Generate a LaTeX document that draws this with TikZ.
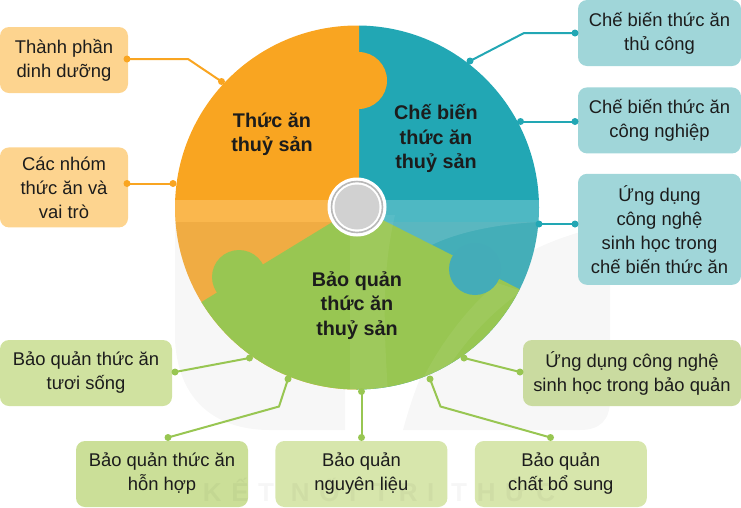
\documentclass[tikz,border=0pt]{standalone}
\usepackage{fontspec}
\setmainfont{Liberation Sans}
\newfontfamily\nenfont[LetterSpace=37]{Liberation Sans Bold}
\usetikzlibrary{positioning}
\definecolor{cam}{HTML}{F9A521}
\definecolor{xanh}{HTML}{22A7B4}
\definecolor{xanhmo}{HTML}{44ACB8}
\definecolor{la}{HTML}{98C652}
\definecolor{camnhat}{HTML}{FDD48F}
\definecolor{xanhnhat}{HTML}{A0D6D9}
\definecolor{lanhat}{HTML}{CBDF98}
\definecolor{lanhat2}{HTML}{D7E6AC}
\definecolor{laxam}{HTML}{CADBA0}
\definecolor{chu}{HTML}{1C1C1C}
\tikzstyle{hop} = [rectangle,
                    rounded corners=9pt,
                    inner sep=0pt,
                    text centered,
                    text=chu,
                    font=\fontsize{18.4}{24}\selectfont]
\tikzstyle{hopcam} = [hop, fill=camnhat, minimum width=128pt]
\tikzstyle{hopxanh} = [hop, fill=xanhnhat, minimum width=163pt]
\tikzstyle{hopla} = [hop, fill=lanhat, minimum width=172pt, minimum height=66pt]
\tikzstyle{manh} = [text=chu, text centered, font=\fontsize{19.8}{24.3}\selectfont\bfseries]
\tikzstyle{noicam} = [draw=cam, line width=2pt]
\tikzstyle{noixanh} = [draw=xanh, line width=2pt]
\tikzstyle{noila} = [draw=la, line width=2pt]
\tikzstyle{cham} = [circle, inner sep=0pt, minimum size=7pt]

\begin{document}
\begin{tikzpicture}[x=1pt, y=-1pt]
\useasboundingbox (0,0) rectangle (741,507);
% nen mo
\fill[black!3] (175,200) -- (175,340) .. controls (178,400) and (215,430) .. (270,430) -- (345,430) -- (345,200) -- cycle;
\fill[black!3] (403,430) .. controls (430,330) and (480,250) .. (610,225) -- (610,400) .. controls (610,420) and (600,430) .. (580,430) -- cycle;
% banh tron
\begin{scope}
\clip (357,207.5) circle [radius=182];
\fill[xanh] (359,207) -- (359,0) -- (600,0) -- (600,400) -- (357,400) -- cycle;
\fill[cam] (359,207) -- (359,0) -- (100,0) -- (100,400) -- (357,400) -- cycle;
\fill[black!20, opacity=.2] (170,222) rectangle (545,400);
\fill[white, opacity=.12] (545,222) -- (538,222) .. controls (480,225) and (420,240) .. (400,270) -- (380,222) -- cycle;
\fill[white, opacity=.2] (170,200) rectangle (545,222);
\fill[la] (357,207) -- (100,364) -- (100,420) -- (620,420) -- (620,340) -- cycle;
\fill[white, opacity=.06] (350,215) -- (395,215) .. controls (380,280) and (385,340) .. (388,395) -- (350,395) -- cycle;
\fill[white, opacity=.06] (522,291) .. controls (480,320) and (450,360) .. (432,395) -- (415,395) .. controls (435,350) and (465,310) .. (497,283) -- cycle;
\end{scope}
\fill[cam] (358.5,80.5) circle [radius=28.5];
\fill[xanhmo] (475,269) circle [radius=26];
\fill[la] (239,277) circle [radius=27];
% tam
\fill[white] (357,207) circle [radius=29.5];
\draw[black!28, line width=1.6pt] (357,207) circle [radius=25.5];
\fill[black!18] (357,207) circle [radius=22.5];

\node (m1) [manh, align=center] at (272,134.5) {Thức ăn\\thuỷ sản};
\node (m2) [manh, align=center] at (436,138.5) {Chế biến\\thức ăn\\thuỷ sản};
\node (m3) [manh, align=center] at (357,305.5) {Bảo quản\\thức ăn\\thuỷ sản};

\node (c1) [hopcam, minimum height=66pt, align=center] at (64,60) {Thành phần\\dinh dưỡng};
\node (c2) [hopcam, minimum height=80pt, align=center, below=54pt of c1] {Các nhóm\\thức ăn và\\vai trò};

\node (x1) [hopxanh, minimum height=66pt, align=center] at (659.5,33) {Chế biến thức ăn\\thủ công};
\node (x2) [hopxanh, minimum height=66pt, align=center, below=21pt of x1] {Chế biến thức ăn\\công nghiệp};
\node (x3) [hopxanh, minimum height=111pt, align=center, below=20pt of x2] {Ứng dụng\\công nghệ\\sinh học trong\\chế biến thức ăn};

\node (l1) [hopla, fill=lanhat!60!lanhat2, align=center] at (86,373) {Bảo quản thức ăn\\tươi sống};
\node (l2) [hopla, align=center] at (162,474) {Bảo quản thức ăn\\hỗn hợp};
\node (l3) [hopla, fill=lanhat2, align=center, right=27pt of l2] {Bảo quản\\nguyên liệu};
\node (l4) [hopla, fill=lanhat2, align=center, right=27pt of l3] {Bảo quản\\chất bổ sung};
\node (l5) [hopla, fill=laxam, minimum width=218pt, align=center] at (632,373) {Ứng dụng công nghệ\\sinh học trong bảo quản};

\node (nen) [text=black, opacity=.035, inner sep=0pt, font=\fontsize{26}{26}\nenfont] at (379,490) {KẾT NỐI TRI THỨC};

% cham cam
\node (dc1) [cham, fill=cam] at (127,59) {};
\node (ec1) [cham, fill=cam] at (221.5,81.5) {};
\node (dc2) [cham, fill=cam] at (127,183.5) {};
\node (ec2) [cham, fill=cam] at (173,183.5) {};
% cham xanh
\node (dx1) [cham, fill=xanh] at (575,33) {};
\node (ex1) [cham, fill=xanh] at (470,61) {};
\node (dx2) [cham, fill=xanh] at (575,121.5) {};
\node (ex2) [cham, fill=xanh] at (520.5,121.5) {};
\node (dx3) [cham, fill=xanh] at (575,224) {};
\node (ex3) [cham, fill=xanh] at (539,224) {};
% cham la
\node (dl1) [cham, fill=la] at (175,372) {};
\node (el1) [cham, fill=la] at (249.5,358) {};
\node (dl2) [cham, fill=la] at (168,437.5) {};
\node (el2) [cham, fill=la] at (288,379) {};
\node (dl3) [cham, fill=la] at (361.5,437.5) {};
\node (el3) [cham, fill=la] at (361.5,391.5) {};
\node (dl4) [cham, fill=la] at (550.5,437.5) {};
\node (el4) [cham, fill=la] at (430,379) {};
\node (dl5) [cham, fill=la] at (520,372) {};
\node (el5) [cham, fill=la] at (464,358) {};

\draw[noicam] (dc1.center) -- (188,59) -- (ec1.center);
\draw[noicam] (dc2.center) -- (ec2.center);
\draw[noixanh] (dx1.center) -- (524,33) -- (ex1.center);
\draw[noixanh] (dx2.center) -- (ex2.center);
\draw[noixanh] (dx3.center) -- (ex3.center);
\draw[noila] (dl1.center) -- (el1.center);
\draw[noila] (dl2.center) -- (279,406.5) -- (el2.center);
\draw[noila] (dl3.center) -- (el3.center);
\draw[noila] (dl4.center) -- (440.5,406.5) -- (el4.center);
\draw[noila] (dl5.center) -- (el5.center);
\end{tikzpicture}
\end{document}
